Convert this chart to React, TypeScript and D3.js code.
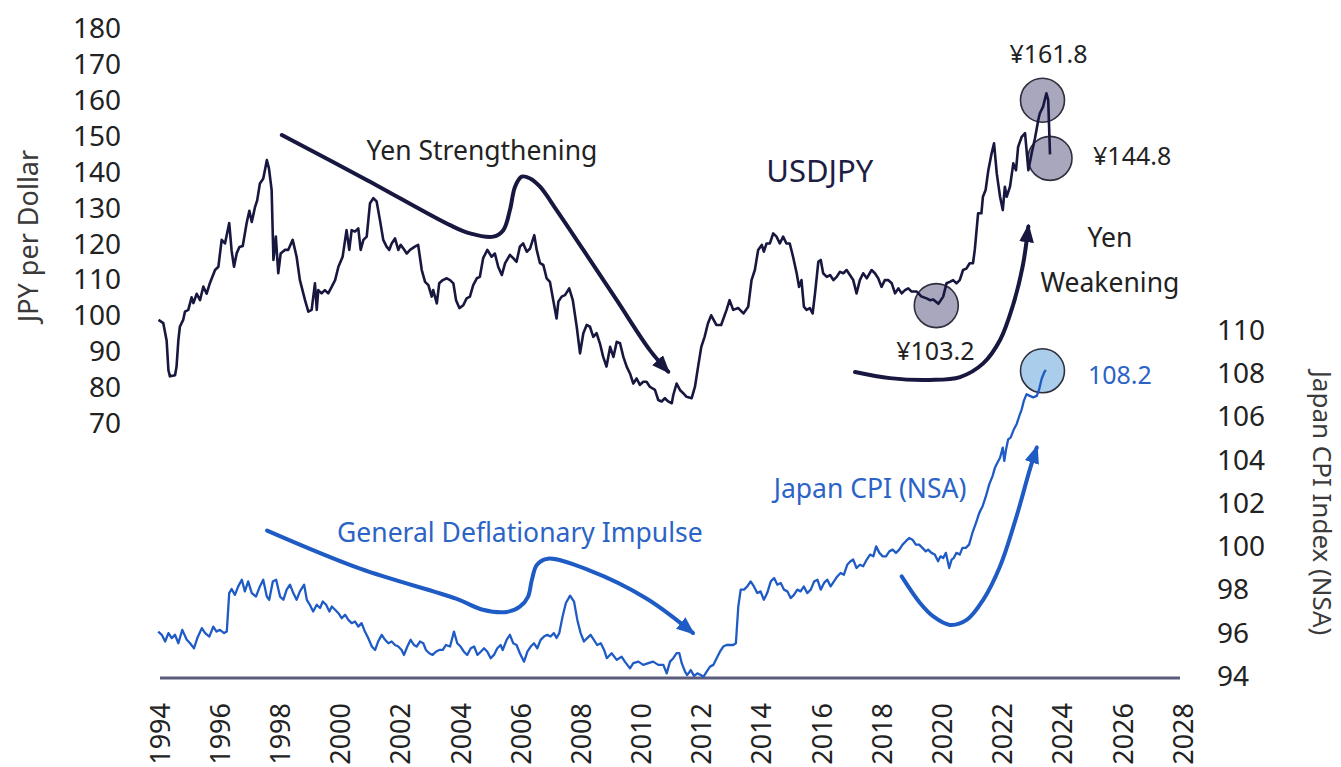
import React, { useEffect, useRef } from "react";
import * as d3 from "d3";

type Pt = [number, number];

// axis ticks
const yearTicks = [1994, 1996, 1998, 2000, 2002, 2004, 2006, 2008, 2010, 2012, 2014, 2016, 2018, 2020, 2022, 2024, 2026, 2028];
const jpyTicks = [70, 80, 90, 100, 110, 120, 130, 140, 150, 160, 170, 180];
const cpiTicks = [94, 96, 98, 100, 102, 104, 106, 108, 110];

// USDJPY, [year, yen per dollar]
const usdjpy: Pt[] = [
  [1993.95, 98.7], [1994.11, 97.8], [1994.22, 93.0], [1994.28, 84.7], [1994.33, 83.0], [1994.5, 83.3], [1994.55, 85.7],
  [1994.61, 93.0], [1994.66, 96.8], [1994.77, 98.7], [1994.83, 101.0], [1994.94, 101.5], [1995.05, 105.0], [1995.11, 103.4],
  [1995.22, 106.0], [1995.33, 104.2], [1995.44, 108.0], [1995.55, 106.0], [1995.66, 109.0], [1995.83, 112.6], [1995.94, 113.5],
  [1996.05, 121.0], [1996.16, 120.0], [1996.3, 125.7], [1996.38, 118.0], [1996.46, 113.5], [1996.55, 117.3], [1996.64, 119.0],
  [1996.75, 119.3], [1996.88, 125.7], [1996.97, 129.1], [1997.05, 126.0], [1997.16, 130.2], [1997.23, 132.0], [1997.32, 136.7],
  [1997.43, 138.0], [1997.49, 140.5], [1997.55, 143.2], [1997.62, 141.0], [1997.71, 134.9], [1997.77, 115.4], [1997.85, 121.9],
  [1997.93, 111.7], [1998.01, 117.2], [1998.15, 118.2], [1998.26, 118.2], [1998.41, 121.0], [1998.54, 116.3], [1998.65, 109.8],
  [1998.82, 104.2], [1998.93, 101.0], [1999.04, 101.5], [1999.15, 108.9], [1999.21, 101.5], [1999.26, 107.0], [1999.37, 106.1],
  [1999.48, 107.0], [1999.59, 106.1], [1999.71, 108.0], [1999.82, 109.8], [1999.93, 113.5], [2000.07, 116.3], [2000.2, 123.7],
  [2000.29, 118.2], [2000.37, 123.7], [2000.48, 123.3], [2000.59, 124.2], [2000.67, 118.2], [2000.76, 121.0], [2000.87, 121.9],
  [2000.98, 131.2], [2001.09, 132.6], [2001.2, 131.7], [2001.31, 126.5], [2001.42, 121.0], [2001.53, 119.1], [2001.62, 118.2],
  [2001.7, 120.0], [2001.81, 121.4], [2001.92, 118.2], [2002.0, 119.6], [2002.09, 118.6], [2002.2, 117.2], [2002.31, 118.2],
  [2002.47, 119.1], [2002.58, 119.6], [2002.7, 112.6], [2002.81, 109.3], [2002.92, 108.4], [2003.03, 105.2], [2003.08, 107.0],
  [2003.2, 103.3], [2003.28, 108.9], [2003.4, 109.8], [2003.53, 110.3], [2003.64, 109.8], [2003.75, 108.9], [2003.84, 104.2],
  [2003.95, 102.0], [2004.08, 102.8], [2004.19, 104.7], [2004.3, 105.2], [2004.41, 108.4], [2004.53, 110.3], [2004.63, 110.7],
  [2004.74, 115.9], [2004.88, 118.2], [2005.02, 116.3], [2005.13, 117.2], [2005.24, 113.5], [2005.36, 111.2], [2005.47, 114.5],
  [2005.63, 116.8], [2005.74, 115.9], [2005.85, 114.9], [2005.96, 119.1], [2006.07, 120.0], [2006.19, 117.7], [2006.3, 118.6],
  [2006.44, 122.3], [2006.52, 118.2], [2006.63, 114.5], [2006.74, 114.0], [2006.85, 110.3], [2006.96, 109.3], [2007.07, 104.2],
  [2007.18, 99.1], [2007.24, 103.8], [2007.35, 105.2], [2007.46, 105.6], [2007.6, 107.5], [2007.72, 104.2], [2007.85, 96.8],
  [2007.96, 89.4], [2008.07, 95.0], [2008.18, 97.3], [2008.29, 96.8], [2008.4, 94.0], [2008.51, 95.0], [2008.62, 92.2],
  [2008.73, 88.4], [2008.84, 85.7], [2008.96, 91.2], [2009.07, 88.4], [2009.18, 92.6], [2009.29, 92.2], [2009.4, 88.4],
  [2009.51, 85.7], [2009.62, 83.8], [2009.73, 81.0], [2009.84, 82.4], [2009.95, 80.6], [2010.06, 81.5], [2010.17, 81.5],
  [2010.28, 80.1], [2010.45, 79.2], [2010.56, 76.4], [2010.67, 76.0], [2010.78, 76.9], [2010.89, 76.0], [2011.01, 75.5],
  [2011.06, 77.8], [2011.17, 81.0], [2011.28, 79.2], [2011.39, 78.3], [2011.5, 77.3], [2011.67, 76.9], [2011.78, 80.1],
  [2011.88, 85.5], [2011.99, 91.2], [2012.1, 94.0], [2012.21, 97.7], [2012.32, 100.0], [2012.49, 97.3], [2012.65, 97.3],
  [2012.83, 101.5], [2012.93, 104.2], [2013.05, 101.5], [2013.22, 102.0], [2013.39, 100.5], [2013.55, 102.4], [2013.66, 109.8],
  [2013.77, 112.6], [2013.88, 118.2], [2014.0, 119.6], [2014.07, 117.7], [2014.16, 120.0], [2014.27, 120.0], [2014.38, 122.8],
  [2014.49, 121.9], [2014.6, 120.0], [2014.71, 121.9], [2014.82, 120.0], [2014.93, 120.0], [2015.04, 116.3], [2015.16, 111.7],
  [2015.24, 107.9], [2015.32, 109.8], [2015.4, 102.4], [2015.49, 101.5], [2015.6, 102.0], [2015.69, 100.5], [2015.77, 106.1],
  [2015.88, 114.9], [2015.96, 115.4], [2016.04, 111.7], [2016.16, 110.7], [2016.27, 111.2], [2016.38, 109.8], [2016.49, 110.7],
  [2016.6, 112.1], [2016.71, 111.7], [2016.82, 112.6], [2016.93, 111.2], [2017.04, 109.8], [2017.15, 106.1], [2017.26, 109.8],
  [2017.37, 111.7], [2017.49, 110.3], [2017.65, 112.6], [2017.76, 111.7], [2017.87, 110.3], [2017.98, 107.9], [2018.09, 109.8],
  [2018.2, 109.8], [2018.32, 108.9], [2018.43, 106.1], [2018.54, 107.5], [2018.65, 106.1], [2018.76, 107.0], [2018.87, 107.5],
  [2018.98, 106.6], [2019.15, 106.6], [2019.31, 105.2], [2019.48, 104.7], [2019.59, 104.2], [2019.7, 104.4], [2019.87, 103.2],
  [2020.03, 105.2], [2020.14, 108.9], [2020.25, 109.3], [2020.36, 109.8], [2020.47, 108.9], [2020.58, 109.8], [2020.69, 112.6],
  [2020.8, 113.0], [2020.91, 114.5], [2021.02, 114.5], [2021.08, 118.2], [2021.19, 128.4], [2021.3, 128.4], [2021.35, 133.0],
  [2021.44, 134.9], [2021.53, 140.4], [2021.64, 145.1], [2021.72, 147.9], [2021.81, 139.5], [2021.92, 133.0], [2022.01, 129.3],
  [2022.08, 135.8], [2022.14, 133.0], [2022.25, 135.8], [2022.36, 142.3], [2022.45, 140.4], [2022.52, 146.9], [2022.64, 149.7],
  [2022.75, 150.7], [2022.86, 140.4], [2022.97, 145.1], [2023.08, 149.3], [2023.19, 154.4], [2023.24, 156.2], [2023.35, 158.1],
  [2023.46, 161.8], [2023.52, 160.0], [2023.58, 144.8],
];

// Japan CPI (NSA), [year, index]
const japanCpi: Pt[] = [
  [1993.94, 96.1], [1994.06, 95.95], [1994.17, 95.64], [1994.28, 96.03], [1994.39, 95.8], [1994.5, 95.95], [1994.61, 95.56],
  [1994.74, 96.18], [1994.89, 95.72], [1995.0, 95.56], [1995.13, 95.33], [1995.24, 95.8], [1995.39, 96.26], [1995.5, 96.03],
  [1995.64, 95.87], [1995.77, 96.33], [1995.88, 96.1], [1995.99, 96.18], [1996.13, 96.03], [1996.22, 96.1], [1996.3, 97.88],
  [1996.38, 98.07], [1996.49, 97.8], [1996.6, 98.19], [1996.72, 98.5], [1996.82, 97.96], [1996.93, 98.42], [1997.05, 97.88],
  [1997.19, 97.72], [1997.32, 98.19], [1997.43, 98.5], [1997.55, 97.72], [1997.63, 97.57], [1997.75, 98.42], [1997.86, 98.5],
  [1997.99, 97.72], [1998.1, 97.57], [1998.21, 98.04], [1998.32, 98.27], [1998.43, 97.88], [1998.54, 97.57], [1998.65, 97.96],
  [1998.79, 98.27], [1998.88, 97.57], [1998.98, 97.34], [1999.09, 97.03], [1999.21, 97.34], [1999.32, 97.19], [1999.41, 97.49],
  [1999.52, 97.34], [1999.63, 97.03], [1999.71, 97.26], [1999.82, 97.11], [1999.93, 96.95], [2000.04, 96.72], [2000.15, 96.88],
  [2000.26, 96.64], [2000.37, 96.49], [2000.48, 96.57], [2000.59, 96.33], [2000.7, 96.49], [2000.81, 96.1], [2000.92, 95.8],
  [2001.04, 95.41], [2001.15, 95.25], [2001.25, 95.64], [2001.37, 95.95], [2001.48, 95.72], [2001.59, 95.56], [2001.7, 95.64],
  [2001.81, 95.48], [2001.92, 95.41], [2002.03, 95.25], [2002.11, 95.02], [2002.22, 95.41], [2002.33, 95.72], [2002.44, 95.48],
  [2002.53, 95.41], [2002.64, 95.64], [2002.75, 95.56], [2002.84, 95.25], [2002.95, 95.1], [2003.06, 95.02], [2003.17, 95.17],
  [2003.28, 95.25], [2003.4, 95.25], [2003.5, 95.48], [2003.64, 95.41], [2003.77, 96.1], [2003.88, 95.56], [2003.99, 95.41],
  [2004.1, 95.17], [2004.21, 95.02], [2004.33, 95.33], [2004.44, 95.41], [2004.55, 95.02], [2004.66, 95.17], [2004.77, 95.33],
  [2004.88, 95.17], [2004.99, 94.87], [2005.1, 95.02], [2005.21, 95.33], [2005.32, 95.48], [2005.39, 95.25], [2005.52, 95.72],
  [2005.63, 95.95], [2005.74, 95.56], [2005.85, 95.48], [2005.96, 95.1], [2006.1, 94.71], [2006.21, 95.17], [2006.32, 95.41],
  [2006.43, 95.56], [2006.54, 95.33], [2006.65, 95.72], [2006.76, 95.87], [2006.87, 95.95], [2006.98, 95.87], [2007.09, 96.03],
  [2007.18, 95.8], [2007.27, 96.03], [2007.38, 96.8], [2007.49, 97.42], [2007.63, 97.76], [2007.76, 97.49], [2007.87, 96.64],
  [2007.98, 96.03], [2008.09, 95.64], [2008.2, 95.8], [2008.31, 95.95], [2008.42, 95.72], [2008.53, 95.48], [2008.65, 95.56],
  [2008.76, 95.25], [2008.85, 94.87], [2009.01, 95.1], [2009.18, 94.79], [2009.34, 94.94], [2009.45, 94.71], [2009.62, 94.4],
  [2009.73, 94.64], [2009.9, 94.71], [2010.06, 94.56], [2010.23, 94.64], [2010.39, 94.71], [2010.56, 94.56], [2010.73, 94.56],
  [2010.84, 94.17], [2010.95, 94.71], [2011.06, 94.87], [2011.17, 95.1], [2011.26, 95.1], [2011.34, 94.64], [2011.45, 94.25],
  [2011.52, 94.09], [2011.64, 94.32], [2011.75, 94.05], [2011.86, 94.17], [2011.97, 94.09], [2012.06, 94.01], [2012.17, 94.25],
  [2012.28, 94.48], [2012.39, 94.56], [2012.5, 94.87], [2012.61, 95.17], [2012.72, 95.41], [2012.83, 95.48], [2012.94, 95.48],
  [2013.05, 95.48], [2013.14, 95.56], [2013.22, 97.26], [2013.3, 98.04], [2013.41, 98.04], [2013.52, 98.19], [2013.63, 98.42],
  [2013.74, 98.19], [2013.85, 97.88], [2013.96, 97.96], [2014.07, 97.57], [2014.18, 97.88], [2014.3, 98.42], [2014.41, 98.58],
  [2014.52, 98.27], [2014.63, 98.35], [2014.74, 98.04], [2014.85, 97.96], [2014.96, 97.65], [2015.07, 97.8], [2015.18, 98.04],
  [2015.29, 97.96], [2015.4, 98.19], [2015.51, 97.88], [2015.63, 98.04], [2015.74, 98.42], [2015.85, 98.5], [2015.96, 98.04],
  [2016.07, 98.35], [2016.18, 98.5], [2016.29, 98.19], [2016.4, 98.42], [2016.51, 98.65], [2016.62, 98.81], [2016.73, 98.73],
  [2016.84, 99.19], [2016.95, 99.35], [2017.04, 99.43], [2017.15, 99.04], [2017.26, 99.19], [2017.37, 99.12], [2017.49, 99.43],
  [2017.6, 99.66], [2017.71, 99.58], [2017.8, 100.04], [2017.91, 99.74], [2018.02, 99.58], [2018.13, 99.58], [2018.24, 99.81],
  [2018.35, 99.89], [2018.46, 99.74], [2018.57, 99.89], [2018.68, 100.12], [2018.79, 100.28], [2018.9, 100.43], [2019.01, 100.35],
  [2019.12, 100.12], [2019.23, 100.12], [2019.34, 99.97], [2019.45, 99.81], [2019.53, 99.89], [2019.64, 99.74], [2019.75, 99.66],
  [2019.86, 99.35], [2019.94, 99.58], [2020.03, 99.5], [2020.12, 99.74], [2020.23, 99.04], [2020.31, 99.43], [2020.38, 99.5],
  [2020.47, 99.74], [2020.58, 99.66], [2020.67, 99.97], [2020.78, 99.97], [2020.89, 100.12], [2021.0, 100.66], [2021.12, 101.13],
  [2021.23, 101.59], [2021.34, 101.9], [2021.45, 102.36], [2021.56, 102.91], [2021.67, 103.29], [2021.75, 103.68], [2021.83, 103.91],
  [2021.92, 104.14], [2022.01, 104.61], [2022.06, 103.99], [2022.12, 104.53], [2022.19, 104.99], [2022.27, 105.07], [2022.38, 105.46],
  [2022.47, 105.69], [2022.56, 106.07], [2022.64, 106.38], [2022.71, 106.77], [2022.8, 107.08], [2022.91, 107.0], [2023.02, 106.93],
  [2023.14, 107.0], [2023.22, 107.31], [2023.3, 107.78], [2023.39, 108.09], [2023.44, 108.2],
];

// hand-drawn arrows, in chart units (left axis for yen, right axis for CPI)
const yenStrengthening: Pt[] = [
  [1998.05, 150.2], [2000.87, 137.7], [2003.64, 125.1], [2004.3, 122.8], [2005.08, 121.9], [2005.41, 123.7], [2005.63, 129.3],
  [2005.8, 135.8], [2006.02, 138.6], [2006.3, 138.1], [2006.63, 135.8], [2007.18, 129.3], [2008.07, 118.2], [2009.18, 104.2],
  [2010.28, 90.3], [2010.89, 84.3],
];
const yenWeakening: Pt[] = [
  [2017.1, 84.2], [2018.26, 82.5], [2019.59, 82.0], [2020.59, 82.8], [2021.36, 86.6], [2021.92, 93.1], [2022.35, 102.8],
  [2022.68, 114.0], [2022.86, 124.7],
];
const deflationImpulse: Pt[] = [
  [1997.56, 100.77], [2000.65, 99.01], [2003.84, 97.62], [2004.73, 97.11], [2005.53, 97.01], [2005.96, 97.25], [2006.23, 97.71],
  [2006.36, 98.5], [2006.53, 99.19], [2006.89, 99.47], [2008.29, 98.92], [2010.18, 97.62], [2011.71, 96.04],
];
const cpiRebound: Pt[] = [
  [2018.65, 98.65], [2019.26, 97.42], [2019.7, 96.8], [2020.25, 96.41], [2020.81, 96.64], [2021.36, 97.57], [2021.92, 99.12],
  [2022.47, 101.44], [2022.91, 103.6], [2023.14, 104.61],
];

// highlighted points
const jpyCircles: Pt[] = [[2019.8, 102.7], [2023.33, 159.9], [2023.58, 143.7]];
const cpiCircles: Pt[] = [[2023.33, 108.16]];

// callout text, [label, year, value]
const jpyNotes: [string, number, number][] = [
  ["Yen Strengthening", 2004.7, 143.2],
  ["¥161.8", 2023.53, 170.3],
  ["Yen", 2025.57, 119.0],
  ["Weakening", 2025.57, 106.6],
  ["¥103.2", 2019.77, 87.5],
];
const cpiNotes: [string, number, number][] = [
  ["General Deflationary Impulse", 2005.96, 100.22],
  ["Japan CPI (NSA)", 2017.6, 102.3],
];

const NAVY = "#17173f";
const BLUE = "#1f5bc4";
const INK = "#222";
const FONT = "'Noto Sans', sans-serif";

const App = () => {
  const svgRef = useRef<SVGSVGElement>(null);

  useEffect(() => {
    const width = 1341;
    const height = 767;

    const svg = d3.select(svgRef.current)
      .attr("width", width)
      .attr("height", height)
      .style("background", "#fff")
      .style("font-family", FONT);

    svg.selectAll("*").remove();

    const x = d3.scaleLinear().domain([1994, 2028]).range([160, 1183]);
    const yL = d3.scaleLinear().domain([70, 180]).range([423, 28]);
    const yR = d3.scaleLinear().domain([94, 110]).range([677, 331]);

    const defs = svg.append("defs");
    const head = (id, color) => defs.append("marker")
      .attr("id", id)
      .attr("viewBox", "0 0 10 8")
      .attr("refX", 8.5)
      .attr("refY", 4)
      .attr("markerWidth", 4.6)
      .attr("markerHeight", 3.7)
      .attr("orient", "auto")
      .append("path")
      .attr("d", "M0,0L10,4L0,8Z")
      .attr("fill", color);
    head("head-navy", NAVY);
    head("head-blue", BLUE);

    // baseline
    svg.append("line")
      .attr("x1", x(1994)).attr("x2", x(2028) - 3)
      .attr("y1", yR(94) + 1).attr("y2", yR(94) + 1)
      .attr("stroke", "#5b5b7c")
      .attr("stroke-width", 3);

    // tick labels
    svg.append("g").selectAll("text").data(jpyTicks).enter().append("text")
      .attr("x", 121).attr("y", d => yL(d)).attr("dy", "0.36em")
      .attr("text-anchor", "end").attr("font-size", 28).attr("fill", INK)
      .text(d => d);

    svg.append("g").selectAll("text").data(cpiTicks).enter().append("text")
      .attr("x", 1217).attr("y", d => yR(d)).attr("dy", "0.32em")
      .attr("text-anchor", "start").attr("font-size", 28).attr("fill", INK)
      .text(d => d);

    svg.append("g").selectAll("text").data(yearTicks).enter().append("text")
      .attr("transform", d => `translate(${x(d)},703) rotate(-90)`)
      .attr("dy", "0.36em")
      .attr("text-anchor", "end").attr("font-size", 27).attr("fill", INK)
      .text(d => d);

    // axis titles
    svg.append("text")
      .attr("transform", "translate(28,236) rotate(-90)")
      .attr("dy", "0.36em").attr("text-anchor", "middle")
      .attr("font-size", 27).attr("fill", "#3a3a3a")
      .text("JPY per Dollar");
    svg.append("text")
      .attr("transform", "translate(1322,503) rotate(90)")
      .attr("dy", "0.36em").attr("text-anchor", "middle")
      .attr("font-size", 26).attr("fill", "#3a3a3a")
      .text("Japan CPI Index (NSA)");

    // highlight circles
    svg.append("g").selectAll("circle").data(jpyCircles).enter().append("circle")
      .attr("cx", d => x(d[0])).attr("cy", d => yL(d[1])).attr("r", 22)
      .attr("fill", "#a8a7bd").attr("stroke", "#2e2e3c").attr("stroke-width", 1.6);
    svg.append("g").selectAll("circle").data(cpiCircles).enter().append("circle")
      .attr("cx", d => x(d[0])).attr("cy", d => yR(d[1])).attr("r", 22)
      .attr("fill", "#a9cdea").attr("stroke", "#2e2e3c").attr("stroke-width", 1.6);

    // series
    const jpyLine = d3.line<Pt>().x(d => x(d[0])).y(d => yL(d[1]));
    const cpiLine = d3.line<Pt>().x(d => x(d[0])).y(d => yR(d[1]));

    svg.append("path").datum(usdjpy)
      .attr("fill", "none").attr("stroke", NAVY).attr("stroke-width", 2.6)
      .attr("stroke-linejoin", "round").attr("d", jpyLine);
    svg.append("path").datum(japanCpi)
      .attr("fill", "none").attr("stroke", BLUE).attr("stroke-width", 2.3)
      .attr("stroke-linejoin", "round").attr("d", cpiLine);

    // arrows
    const jpyCurve = d3.line<Pt>().x(d => x(d[0])).y(d => yL(d[1])).curve(d3.curveCatmullRom.alpha(0.5));
    const cpiCurve = d3.line<Pt>().x(d => x(d[0])).y(d => yR(d[1])).curve(d3.curveCatmullRom.alpha(0.5));

    [yenStrengthening, yenWeakening].forEach(pts => {
      svg.append("path").datum(pts)
        .attr("fill", "none").attr("stroke", NAVY).attr("stroke-width", 4)
        .attr("stroke-linecap", "round").attr("marker-end", "url(#head-navy)")
        .attr("d", jpyCurve);
    });
    [deflationImpulse, cpiRebound].forEach(pts => {
      svg.append("path").datum(pts)
        .attr("fill", "none").attr("stroke", BLUE).attr("stroke-width", 4)
        .attr("stroke-linecap", "round").attr("marker-end", "url(#head-blue)")
        .attr("d", cpiCurve);
    });

    // callouts
    svg.append("g").selectAll("text").data(jpyNotes).enter().append("text")
      .attr("x", d => x(d[1])).attr("y", d => yL(d[2]))
      .attr("text-anchor", "middle").attr("font-size", d => (d[0].startsWith("¥") ? 25 : 26.5))
      .attr("fill", INK)
      .text(d => d[0]);

    svg.append("text")
      .attr("x", x(2015.93)).attr("y", yL(137.1))
      .attr("text-anchor", "middle").attr("font-size", 31).attr("fill", "#1e1e44")
      .text("USDJPY");

    svg.append("text")
      .attr("x", x(2025.01)).attr("y", yL(141.8))
      .attr("font-size", 25).attr("fill", INK)
      .text("¥144.8");

    svg.append("g").selectAll("text").data(cpiNotes).enter().append("text")
      .attr("x", d => x(d[1])).attr("y", d => yR(d[2]))
      .attr("text-anchor", "middle").attr("font-size", 26.5).attr("fill", "#2b63c6")
      .text(d => d[0]);

    svg.append("text")
      .attr("x", x(2024.84)).attr("y", yR(107.54))
      .attr("font-size", 25).attr("fill", "#2b63c6")
      .text("108.2");
  }, []);

  return (
    <svg ref={svgRef} style={{ position: "absolute", left: 0, top: 0, display: "block" }}></svg>
  );
};

export default App;
